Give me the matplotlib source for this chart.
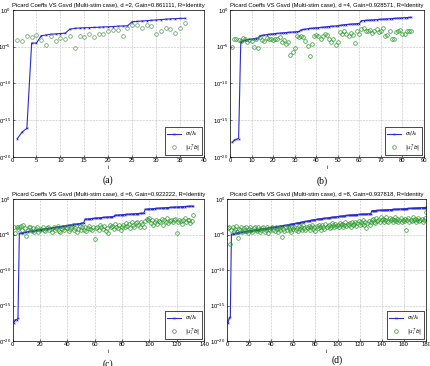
import numpy as np
import matplotlib
matplotlib.use("Agg")
import matplotlib.pyplot as plt

plt.rcParams['font.family'] = ['Liberation Sans', 'DejaVu Sans']
plt.rcParams['mathtext.fontset'] = 'dejavusans'

# values stored as log10 exponents
# panel (a), d=2
blue_a = [-17.5, -16.6, -16.1, -4.5, -4.5, -3.5, -3.4, -3.3, -3.25, -3.2,
          -3.15, -2.6, -2.5, -2.45, -2.42, -2.4, -2.37, -2.35, -2.3, -2.28,
          -2.25, -2.2, -2.18, -2.15, -1.6, -1.55, -1.5, -1.45, -1.4, -1.35,
          -1.3, -1.25, -1.2, -1.18, -1.15, -1.13]
green_a = [-4.1, -4.2, -3.6, -3.7, -3.4, -4.1, -4.8, -3.6, -4.2, -3.8,
           -3.9, -3.6, -5.2, -3.5, -3.7, -3.2, -3.7, -3.2, -3.2, -2.9,
           -2.7, -2.7, -3.5, -2.5, -2.0, -2.0, -2.5, -2.1, -2.2, -3.2,
           -2.9, -2.5, -2.6, -3.1, -2.5, -1.8]

# panel (b), d=4
blue_b = [-18.0, -17.7, -17.6, -17.5,
          -4.3, -4.2, -4.1, -4.05, -4.0, -3.95, -3.9, -3.9, -3.85,
          -3.5, -3.45, -3.4, -3.35, -3.3, -3.28, -3.25, -3.2,
          -3.18, -3.15, -3.12, -3.1, -3.08, -3.05, -3.02, -3.0, -2.98, -2.95, -2.92,
          -2.7, -2.65, -2.6, -2.55, -2.5, -2.48, -2.45, -2.42, -2.4, -2.38, -2.35, -2.32,
          -2.28, -2.25, -2.22, -2.2, -2.17, -2.14, -2.1, -2.05, -2.0, -1.98, -1.95, -1.92,
          -1.9, -1.88, -1.86, -1.84,
          -1.45, -1.43, -1.41, -1.39, -1.37, -1.35, -1.33, -1.31, -1.29, -1.27,
          -1.25, -1.23, -1.21, -1.19, -1.17, -1.15, -1.13, -1.11, -1.09, -1.07,
          -1.05, -1.03, -1.01, -1.0]
green_b = [-5.0, -3.9, -4.0, -4.1, -4.2, -3.8, -4.0, -4.3, -4.1, -4.2,
           -5.0, -4.0, -5.2, -3.7, -4.1, -4.2, -3.8, -4.0, -3.9, -4.1,
           -4.0, -3.9, -3.7, -4.4, -4.1, -4.6, -4.4, -6.1, -5.7, -5.2,
           -3.6, -3.7, -3.6, -3.7, -4.2, -4.9, -6.3, -4.6, -3.5, -3.4,
           -3.6, -3.9, -3.5, -3.3, -3.4, -4.0, -4.3, -3.9, -4.7, -4.3,
           -3.0, -3.3, -2.9, -3.2, -3.5, -3.1, -3.4, -4.5, -2.9, -3.3,
           -2.6, -2.4, -2.8, -2.9, -2.7, -3.1, -2.9, -2.6, -3.0, -2.8,
           -2.5, -3.6, -3.4, -2.8, -4.0, -4.0, -3.0, -2.9, -2.7, -3.2,
           -3.3, -2.9, -2.8, -2.9]

# panel (c), d=6
blue_c = [-17.4, -17.0, -17.0, -16.8,
          -4.85, -4.80, -4.76, -4.72, -4.68, -4.64, -4.60, -4.57, -4.54, -4.51,
          -4.48, -4.45, -4.42, -4.39, -4.36, -4.33, -4.30, -4.27, -4.24, -4.21,
          -4.18, -4.15, -4.12, -4.09, -4.06, -4.03, -4.00, -3.97, -3.94, -3.91,
          -3.88, -3.85, -3.82, -3.79, -3.76, -3.73, -3.70, -3.67, -3.64, -3.61,
          -3.58, -3.55, -3.52, -3.49, -3.46, -3.43, -3.40, -3.38,
          -2.85, -2.83, -2.80, -2.78, -2.77, -2.75, -2.72, -2.70, -2.69, -2.67,
          -2.65, -2.63, -2.62, -2.60, -2.58, -2.57, -2.55, -2.53, -2.52, -2.50,
          -2.48, -2.46, -2.30, -2.28, -2.27, -2.25, -2.23, -2.22, -2.20, -2.19,
          -2.17, -2.16, -2.14, -2.13, -2.11, -2.10, -2.09, -2.07, -2.06, -2.05,
          -2.04, -2.03, -2.01, -2.00,
          -1.45, -1.43, -1.42, -1.40, -1.39, -1.37, -1.36, -1.34, -1.33, -1.31,
          -1.30, -1.28, -1.27, -1.26, -1.24, -1.23, -1.22, -1.20, -1.19, -1.18,
          -1.16, -1.15, -1.14, -1.12, -1.11, -1.10, -1.09, -1.08, -1.07, -1.06,
          -1.05, -1.04, -1.03, -1.02, -1.01, -1.00]
green_c = [-4.0, -4.8, -3.9, -4.2, -4.0, -3.8, -4.3, -3.7, -4.1, -5.2,
           -4.4, -4.0, -3.9, -4.5, -4.1, -4.6, -4.2, -3.9, -4.7, -4.4,
           -4.2, -4.0, -4.3, -4.5, -4.1, -3.9, -4.4, -4.2, -4.6, -4.0,
           -4.3, -4.1, -3.8, -4.5, -4.7, -4.2, -4.0, -4.4, -3.9, -4.1,
           -4.5, -4.2, -4.0, -3.7, -4.3, -4.1, -4.6, -4.2, -3.8, -4.4,
           -4.0, -4.3, -3.9, -4.5, -4.1, -3.8, -4.2, -4.4, -4.0, -5.7,
           -4.1, -3.9, -4.3, -3.7, -4.0, -4.2, -3.8, -4.5, -4.1, -4.8,
           -3.6, -4.0, -3.8, -4.2, -3.5, -3.9, -4.1, -3.7, -4.3, -3.9,
           -3.6, -4.0, -3.4, -3.8, -3.5, -4.1, -3.3, -3.7, -3.9, -3.4,
           -3.2, -3.6, -3.9, -3.3, -3.5, -4.0, -3.1, -2.8, -3.0, -2.7,
           -3.4, -3.0, -3.7, -3.2, -2.9, -3.5, -3.1, -3.3, -2.8, -3.6,
           -3.0, -3.2, -2.7, -3.4, -3.1, -2.9, -3.3, -3.0, -2.8, -4.8,
           -3.2, -2.9, -3.1, -3.5, -3.0, -2.7, -3.3, -3.0, -2.9, -3.4,
           -3.1, -2.2]

# panel (d), d=8
blue_d = [-17.4, -16.8, -16.6,
          -4.97, -4.92, -4.88, -4.85, -4.82, -4.79, -4.76, -4.73, -4.71, -4.68,
          -4.66, -4.63, -4.61, -4.58, -4.56, -4.53, -4.51, -4.48, -4.46, -4.44,
          -4.41, -4.39, -4.37, -4.34, -4.32, -4.30, -4.27, -4.25, -4.23, -4.20,
          -4.18, -4.16, -4.13, -4.11, -4.08, -4.06, -4.03, -4.01, -3.98, -3.96,
          -3.93, -3.91, -3.88, -3.85, -3.83, -3.80, -3.77, -3.75, -3.72, -3.70,
          -3.67, -3.64, -3.62, -3.59, -3.56, -3.53, -3.50, -3.47, -3.44, -3.41,
          -3.38, -3.35, -3.32, -3.29, -3.26, -3.23, -3.20, -3.16, -3.13, -3.10,
          -3.07, -3.04, -3.01, -2.98, -2.95, -2.92, -2.89, -2.86, -2.84, -2.82,
          -2.80, -2.78, -2.76, -2.74, -2.72, -2.70, -2.68, -2.66, -2.64, -2.62,
          -2.60, -2.58, -2.56, -2.54, -2.52, -2.50, -2.48, -2.46, -2.44, -2.42,
          -2.40, -2.38, -2.36, -2.34, -2.32, -2.30, -2.29, -2.27, -2.26, -2.25,
          -2.24, -2.22, -2.21, -2.20, -2.19, -2.18, -2.17, -2.16, -2.15, -2.14,
          -2.13, -2.12, -2.11, -2.10, -2.09, -2.08, -2.07,
          -1.66, -1.65, -1.64, -1.63, -1.62, -1.61, -1.60, -1.59, -1.58, -1.57,
          -1.56, -1.55, -1.54, -1.53, -1.52, -1.51, -1.50, -1.49, -1.48, -1.47,
          -1.46, -1.45, -1.44, -1.43, -1.42, -1.41, -1.40, -1.39, -1.38, -1.37,
          -1.36, -1.35, -1.34, -1.33, -1.32, -1.31, -1.30, -1.29, -1.28, -1.27,
          -1.26, -1.25, -1.24, -1.23, -1.22, -1.21, -1.21, -1.20, -1.20, -1.19]
green_d = [-4.1, -3.9, -6.4, -4.3, -4.0, -4.5, -4.2, -3.8, -4.6, -5.5,
           -4.2, -4.4, -3.9, -4.7, -4.1, -4.3, -4.0, -4.5, -4.8, -4.2,
           -4.0, -4.4, -4.6, -4.1, -3.9, -4.3, -4.5, -4.0, -4.2, -4.7,
           -4.4, -4.1, -3.9, -4.6, -4.3, -4.0, -4.8, -4.2, -4.4, -4.1,
           -3.9, -4.3, -4.5, -4.0, -4.2, -4.6, -4.1, -4.4, -4.0, -5.3,
           -4.2, -4.5, -4.0, -4.3, -3.8, -4.1, -4.4, -4.7, -4.0, -4.2,
           -3.9, -4.3, -4.1, -4.5, -3.8, -4.2, -4.0, -4.4, -3.7, -4.1,
           -4.3, -3.9, -4.1, -3.8, -4.4, -4.0, -3.7, -4.2, -3.9, -4.5,
           -3.8, -4.1, -3.6, -4.0, -4.3, -3.7, -3.9, -4.2, -3.5, -4.0,
           -3.8, -3.6, -4.1, -3.9, -3.4, -3.7, -4.0, -3.5, -3.8, -3.6,
           -3.9, -3.4, -3.7, -3.5, -4.0, -3.6, -3.3, -3.8, -3.5, -3.7,
           -3.4, -3.9, -3.2, -3.6, -3.5, -3.3, -3.8, -3.4, -3.1, -3.6,
           -3.3, -3.5, -3.0, -3.7, -3.2, -4.1, -3.4, -3.1, -3.6, -3.3,
           -3.0, -2.8, -3.2, -3.4, -2.7, -3.1, -2.9, -3.3, -2.6, -3.0,
           -2.8, -3.2, -2.9, -2.5, -3.1, -3.3, -2.7, -3.0, -2.8, -3.2,
           -2.9, -2.6, -3.1, -2.8, -3.3, -3.0, -2.7, -3.2, -2.9, -3.1,
           -2.8, -4.3, -3.0, -2.7, -3.2, -2.9, -3.1, -2.6, -3.0, -2.8,
           -3.2, -2.9, -2.7, -3.1, -3.0, -2.8, -3.3, -2.9, -2.7, -1.9]

d_vals = [2, 4, 6, 8]
gains = ['0.861111', '0.928571', '0.922222', '0.937818']
xmax = [40, 90, 140, 180]
xstep = [5, 10, 20, 20]
panel_tags = ['(a)', '(b)', '(c)', '(d)']

W, H = 430, 366
fig = plt.figure(figsize=(W / 100, H / 100), dpi=100)

# axes boxes in pixels: left, right, top, bottom
boxes = [(12.5, 204, 10, 157), (230, 424, 10, 157),
         (12.5, 204, 199, 341), (227, 426, 199, 341)]
tag_pos = [(108, 180), (322, 181), (108, 364), (337, 360)]

blues = [blue_a, blue_b, blue_c, blue_d]
greens = [green_a, green_b, green_c, green_d]
green_cols = ['#5c9a5c', '#2a9a2a', '#2a9a2a', '#2a9a2a']

for k in range(4):
    l, r, t, b = boxes[k]
    ax = fig.add_axes([l / W, 1 - b / H, (r - l) / W, (b - t) / H])
    yb = 10.0 ** np.array(blues[k])
    yg = 10.0 ** np.array(greens[k])
    ib = np.arange(1, len(yb) + 1)
    ig = np.arange(1, len(yg) + 1)
    ax.semilogy(ib, yb, color='#2b2bc8', lw=0.8, marker='x', ms=1.2, mew=0.5,
                label=r'$\sigma_i/\lambda_i$')
    ax.semilogy(ig, yg, ls='none', marker='o', ms=2.6, mfc='none',
                mec=green_cols[k], mew=0.5, label=r'$|u_i^Tb|$')
    ax.set_xlim(0, xmax[k])
    ax.set_ylim(1e-20, 1e0)
    ax.set_xticks(np.arange(0, xmax[k] + 1, xstep[k]))
    ax.set_yticks([1e-20, 1e-15, 1e-10, 1e-5, 1e0])
    ax.minorticks_off()
    ax.tick_params(labelsize=4.2, length=1.5, width=0.4, pad=1, direction='in')
    ax.grid(True, ls=':', lw=0.4, color='#888888')
    for s in ax.spines.values():
        s.set_linewidth(0.5)
    ax.set_xlabel('i', fontsize=4, labelpad=1)
    ax.set_title('Picard Coeffs VS Gsvd (Multi-stim case), d =%d, Gain=%s, R=Identity'
                 % (d_vals[k], gains[k]), fontsize=4.2, pad=2)
    leg = ax.legend(loc='lower right', fontsize=4, fancybox=False, framealpha=1,
                    edgecolor='black', handlelength=2.5, borderpad=0.4,
                    labelspacing=0.8, borderaxespad=0.3)
    leg.get_frame().set_linewidth(0.5)
    fig.text(tag_pos[k][0] / W, 1 - tag_pos[k][1] / H, panel_tags[k],
             fontsize=7, family='Liberation Serif', ha='center', va='center')

fig.savefig('out.png', dpi=100)
